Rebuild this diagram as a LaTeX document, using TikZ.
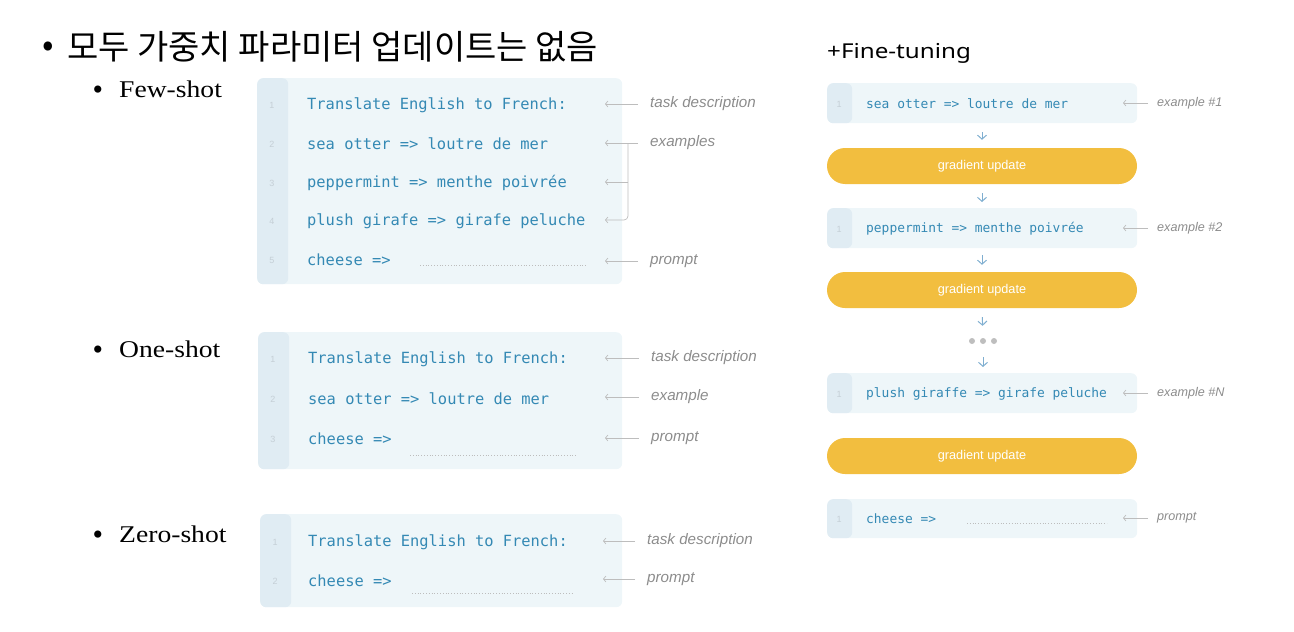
\documentclass[tikz,border=0pt]{standalone}
\usepackage{fontspec}
\usepackage{graphicx}
\setmainfont{Liberation Serif}
\newfontfamily\kor{Noto Sans CJK KR}
\newfontfamily\codef{DejaVu Sans Mono}
\newfontfamily\lab{Liberation Sans}
\newfontfamily\hdr{Noto Sans}
\usetikzlibrary{arrows.meta}
\definecolor{boxfill}{HTML}{EEF6F9}
\definecolor{gutc}{HTML}{E0ECF3}
\definecolor{codec}{HTML}{3489B4}
\definecolor{labc}{HTML}{8C8C8C}
\definecolor{arrc}{HTML}{BDBDBD}
\definecolor{pillc}{HTML}{F2BE3F}
\definecolor{darrc}{HTML}{7FAED0}
\definecolor{numc}{HTML}{C5CFD6}
\definecolor{dotc}{HTML}{BEBEBE}
\tikzset{
  codebox/.style={fill=boxfill, rounded corners=6pt, anchor=north west, inner sep=0pt,
    path picture={\fill[gutc] (path picture bounding box.south west) rectangle ([xshift=#1]path picture bounding box.north west);}},
  codebox/.default=31,
  code/.style={anchor=west, inner sep=0pt, text=codec, font=\codef\fontsize{15.4}{18}\selectfont},
  rcode/.style={anchor=west, inner sep=0pt, text=codec, font=\codef\fontsize{12.9}{15}\selectfont},
  num/.style={inner sep=0pt, text=numc, font=\lab\fontsize{9}{10}\selectfont},
  lbl/.style={anchor=west, inner sep=0pt, text=labc, font=\lab\itshape\fontsize{15.2}{18}\selectfont},
  rlbl/.style={anchor=west, inner sep=0pt, text=labc, font=\lab\itshape\fontsize{12.6}{15}\selectfont},
  arr/.style={draw=arrc, line width=0.7pt, -{Straight Barb[length=2.5pt,width=6pt]}},
  brk/.style={draw=arrc, line width=0.7pt, rounded corners=4pt, -{Straight Barb[length=2.5pt,width=6pt]}},
  dots/.style={draw=arrc, line width=0.8pt, dotted},
  pill/.style={fill=pillc, rounded corners=18pt, minimum width=310pt, minimum height=36pt, inner sep=0pt,
    text=white, font=\lab\fontsize{12.7}{14}\selectfont},
  darr/.style={draw=darrc, line width=1pt, -{Straight Barb[length=4pt,width=9pt]}},
  sect/.style={anchor=base west, inner sep=0pt, font=\fontsize{24}{28}\selectfont},
  sbul/.style={anchor=base, inner sep=0pt, font=\fontsize{30}{34}\selectfont},
}
\begin{document}
\begin{tikzpicture}[x=1pt,y=-1pt]
\useasboundingbox (0,0) rectangle (1294,632);
% heading
\node[inner sep=0pt, font=\kor\fontsize{34}{38}\selectfont] (tb) at (48,49) {•};
\node[anchor=west, inner sep=0pt, font=\kor\fontsize{34}{38}\selectfont] (title) at (67,47) {모두 가중치 파라미터 업데이트는 없음};
\node[anchor=base west, inner sep=0pt, font=\hdr\fontsize{20.5}{24}\selectfont] (ft) at (827,58) {\scalebox{1.18}[1]{+Fine-tuning}};
% section labels
\node[sbul] (fewb) at (98,99) {•};
\node[sect] (few) at (119,97) {\scalebox{1.15}[1]{Few-shot}};
\node[sbul] (oneb) at (98,359) {•};
\node[sect] (one) at (119,357) {\scalebox{1.15}[1]{One-shot}};
\node[sbul] (zerob) at (98,544) {•};
\node[sect] (zero) at (119,542) {\scalebox{1.15}[1]{Zero-shot}};

% ---------- Few-shot box
\node[codebox, minimum width=365pt, minimum height=206pt] (fbox) at (257,78) {};
\foreach \i/\y in {1/105,2/144,3/183,4/221,5/260}{\node[num] (fn\i) at (272,\y) {\i};}
\node[code] (f1) at (307,105) {Translate English to French:};
\node[code] (f2) at (307,144) {sea otter => loutre de mer};
\node[code] (f3) at (307,183) {peppermint => menthe poivrée};
\node[code] (f4) at (307,221) {plush girafe => girafe peluche};
\node[code] (f5) at (307,260) {cheese =>};
\coordinate (fd1) at (420,265); \coordinate (fd2) at (586,265);
\draw[dots] (fd1) -- (fd2);
\node[lbl] (fl1) at (650,104) {task description};
\node[lbl] (fl2) at (650,143) {examples};
\node[lbl] (fl5) at (650,261) {prompt};
\coordinate (ft1) at (605,104); \coordinate (ft2) at (605,143);
\coordinate (ft3) at (605,182); \coordinate (ft4) at (605,220); \coordinate (ft5) at (605,261);
\draw[arr] ([xshift=-12pt]fl1.west) -- (ft1);
\draw[arr] ([xshift=-12pt]fl2.west) -- (ft2);
\draw[brk] (628,143) |- (ft4);
\draw[arr] (628,182) -- (ft3);
\draw[arr] ([xshift=-12pt]fl5.west) -- (ft5);

% ---------- One-shot box
\node[codebox, minimum width=364pt, minimum height=137pt] (obox) at (258,332) {};
\foreach \i/\y in {1/359,2/399,3/439}{\node[num] (on\i) at (273,\y) {\i};}
\node[code] (o1) at (308,359) {Translate English to French:};
\node[code] (o2) at (308,399) {sea otter => loutre de mer};
\node[code] (o3) at (308,439) {cheese =>};
\coordinate (od1) at (410,455); \coordinate (od2) at (576,455);
\draw[dots] (od1) -- (od2);
\node[lbl] (ol1) at (651,358) {task description};
\node[lbl] (ol2) at (651,397) {example};
\node[lbl] (ol3) at (651,438) {prompt};
\draw[arr] ([xshift=-12pt]ol1.west) -- (605,358);
\draw[arr] ([xshift=-12pt]ol2.west) -- (605,397);
\draw[arr] ([xshift=-12pt]ol3.west) -- (605,438);

% ---------- Zero-shot box
\node[codebox, minimum width=362pt, minimum height=93pt] (zbox) at (260,514) {};
\foreach \i/\y in {1/542,2/581}{\node[num] (zn\i) at (275,\y) {\i};}
\node[code] (z1) at (308,542) {Translate English to French:};
\node[code] (z2) at (308,581) {cheese =>};
\coordinate (zd1) at (412,593); \coordinate (zd2) at (574,593);
\draw[dots] (zd1) -- (zd2);
\node[lbl] (zl1) at (647,541) {task description};
\node[lbl] (zl2) at (647,579) {prompt};
\draw[arr] ([xshift=-12pt]zl1.west) -- (603,541);
\draw[arr] ([xshift=-12pt]zl2.west) -- (603,579);

% ---------- Fine-tuning column
\node[codebox=25, minimum width=310pt, minimum height=40pt] (b1) at (827,83) {};
\node[num] (bn1) at (839,104) {1};
\node[rcode] (b1t) at (866,104) {sea otter => loutre de mer};
\node[rlbl] (bl1) at (1157,103) {example \#1};
\draw[arr] ([xshift=-9pt]bl1.west) -- (1123,103);

\node[pill] (g1) at (982,166) {gradient update};

\node[codebox=25, minimum width=310pt, minimum height=40pt] (b2) at (827,208) {};
\node[num] (bn2) at (839,229) {1};
\node[rcode] (b2t) at (866,229) {peppermint => menthe poivrée};
\node[rlbl] (bl2) at (1157,228) {example \#2};
\draw[arr] ([xshift=-9pt]bl2.west) -- (1123,228);

\node[pill] (g2) at (982,290) {gradient update};

\node[minimum width=34pt, minimum height=8pt, inner sep=0pt] (dt) at (983,341) {};
\foreach \dx in {-11,0,11}{\fill[dotc] ([xshift=\dx pt]dt.center) circle (3pt);}

\node[codebox=25, minimum width=310pt, minimum height=40pt] (bN) at (827,373) {};
\node[num] (bnN) at (839,394) {1};
\node[rcode] (bNt) at (866,394) {plush giraffe => girafe peluche};
\node[rlbl] (blN) at (1157,393) {example \#N};
\draw[arr] ([xshift=-9pt]blN.west) -- (1123,393);

\node[pill] (g3) at (982,456) {gradient update};

\node[codebox=25, minimum width=310pt, minimum height=39pt] (bp) at (827,499) {};
\node[num] (bnp) at (839,519) {1};
\node[rcode] (bpt) at (866,519) {cheese =>};
\coordinate (bd1) at (967,523); \coordinate (bd2) at (1107,523);
\draw[dots] (bd1) -- (bd2);
\node[rlbl] (blp) at (1157,518) {prompt};
\draw[arr] ([xshift=-9pt]blp.west) -- (1123,518);

% down arrows
\draw[darr, shorten <=9pt, shorten >=8pt] (b1.south -| g1.north) -- (g1.north);
\draw[darr, shorten <=9pt, shorten >=6pt] (g1.south) -- (g1.south |- b2.north);
\draw[darr, shorten <=7pt, shorten >=7pt] (b2.south -| g2.north) -- (g2.north);
\draw[darr, shorten <=9pt, shorten >=11pt] (g2.south) -- (dt.north);
\draw[darr, shorten <=12pt, shorten >=6pt] (dt.south) -- (dt.south |- bN.north);
\end{tikzpicture}
\end{document}
